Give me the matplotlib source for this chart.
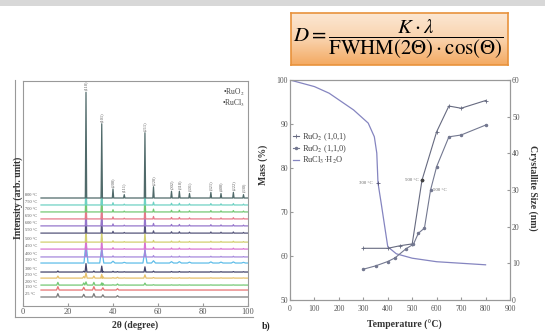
import numpy as np
import matplotlib.pyplot as plt
from matplotlib.lines import Line2D
from matplotlib.patches import Rectangle
from matplotlib.colors import LinearSegmentedColormap

plt.rcParams['font.family'] = ['Liberation Serif', 'DejaVu Serif']
plt.rcParams['mathtext.fontset'] = 'stix'

W, H = 545, 333

# --- a) XRD patterns (top trace first)
xrd_labels = ["800 °C", "750 °C", "700 °C", "650 °C", "600 °C", "550 °C", "500 °C", "450 °C",
              "400 °C", "350 °C", "300 °C", "250 °C", "200 °C", "150 °C", "25 °C"]
xrd_offsets = [48.0, 44.9, 41.8, 38.7, 35.6, 32.4, 28.4, 25.3, 21.8, 19.1, 15.1, 12.4, 9.3, 7.1, 4.0]
xrd_colors = ["#506a6a", "#6fd2c4", "#74c874", "#e67a8a", "#9676cc", "#55557a", "#d2cf70",
              "#d874d2", "#a688dc", "#5fbde8", "#44446a", "#e6c06a", "#74c874", "#e67272", "#7a7a7a"]
ruo2_scale = [1.0, 0.25, 0.25, 0.22, 0.22, 0.2, 0.15, 0.15, 0.12, 0.2, 0.08, 0.05, 0.03, 0.0, 0.0]
rucl3_scale = [0.0, 0.0, 0.0, 0.0, 0.0, 0.0, 0.0, 0.0, 0.0, 0.0, 0.3, 0.6, 0.8, 1.0, 1.0]
peak_width = [0.3, 0.3, 0.3, 0.3, 0.3, 0.3, 0.3, 0.3, 0.3, 0.9, 0.4, 0.5, 0.5, 0.6, 0.6]

ruo2_pos = [28.0, 35.0, 40.0, 45.0, 54.2, 58.0, 66.0, 69.5, 74.0, 83.5, 88.0, 93.5, 98.0]
ruo2_int = [47, 33, 4, 1.5, 29, 5, 3, 3, 2, 2.5, 2, 2.5, 1.5]
ruo2_hkl = ["(110)", "(101)", "(200)", "(111)", "(211)", "(220)", "(002)", "(310)",
            "(301)", "(321)", "(400)", "(222)", "(330)"]
rucl3_pos = [15.5, 27.0, 31.5, 35.5, 42.0]
rucl3_int = [1.5, 1.2, 1.5, 1.0, 0.6]

# --- b) TGA + crystallite size
mass_T = [0, 100, 160, 260, 320, 345, 355, 360, 373, 400, 435, 500, 600, 800]
mass = [100, 98.5, 97, 93.2, 90.2, 87.1, 83.4, 76.6, 72, 62.1, 60.5, 59.5, 58.7, 58.0]
T_101 = [300, 400, 450, 500, 540, 600, 650, 700, 800]
size_101 = [14.1, 14.1, 14.8, 15.3, 32.7, 45.9, 52.9, 52.3, 54.4]
T_110 = [300, 350, 400, 430, 475, 505, 525, 550, 575, 600, 650, 700, 800]
size_110 = [8.4, 9.3, 10.5, 11.5, 14.0, 15.2, 18.2, 19.6, 30.0, 36.4, 44.5, 45.0, 47.7]


def px(x, y):
    return x / W, 1 - y / H


fig = plt.figure(figsize=(W / 100, H / 100), dpi=100)

# grey band on top of the slide
fig.add_artist(Rectangle((0, 1 - 6 / H), 1, 6 / H, transform=fig.transFigure,
                         color="#d8d8d8", lw=0))

# formula box
axf = fig.add_axes([291 / W, 1 - 65 / H, 217 / W, 52 / H])
grad = LinearSegmentedColormap.from_list("peach", ["#fce8d4", "#f9d3ae", "#f4aa62"])
axf.imshow(np.linspace(0, 1, 64).reshape(-1, 1), cmap=grad, aspect="auto",
           extent=[0, 1, 0, 1], origin="upper")
axf.set_xlim(0, 1)
axf.set_ylim(0, 1)
axf.set_xticks([])
axf.set_yticks([])
for s in axf.spines.values():
    s.set_color("#e8923c")
    s.set_linewidth(1.2)
axf.text(0.495, 0.5, r"$D = \dfrac{K \cdot \lambda}{\mathrm{FWHM}(2\Theta) \cdot \cos(\Theta)}$",
         ha="center", va="center", fontsize=15)

# ---------------- a) XRD
ax1 = fig.add_axes([23 / W, 1 - 306 / H, 225 / W, 225 / H])
for i in range(len(xrd_offsets)):
    b = xrd_offsets[i]
    w = peak_width[i]
    peaks = []
    for p, h in zip(ruo2_pos, ruo2_int):
        if ruo2_scale[i] > 0:
            peaks.append((p, h * ruo2_scale[i]))
    for p, h in zip(rucl3_pos, rucl3_int):
        if rucl3_scale[i] > 0:
            peaks.append((p, h * rucl3_scale[i]))
    peaks.sort()
    xs, ys = [8], [b]
    for p, h in peaks:
        xs += [p - w, p, p + w]
        ys += [b, b + h, b]
    xs.append(100)
    ys.append(b)
    ax1.plot(xs, ys, color=xrd_colors[i], lw=0.9, zorder=20 - i)
    ax1.text(0.8, b + 0.4, xrd_labels[i], fontsize=3.2, color="#555555", va="bottom")

for p, h, lab in zip(ruo2_pos, ruo2_int, ruo2_hkl):
    ax1.text(p, xrd_offsets[0] + h + 1.0, lab, rotation=90, fontsize=3.2,
             color="#555555", ha="center", va="bottom")

ax1.text(0.987, 0.951, "•RuO$_2$", transform=ax1.transAxes, fontsize=5.5,
         ha="right", va="center", color="#444444")
ax1.text(0.987, 0.902, "•RuCl$_3$", transform=ax1.transAxes, fontsize=5.5,
         ha="right", va="center", color="#444444")

ax1.set_xlim(0, 100)
ax1.set_ylim(0, 100)
ax1.set_xticks([0, 20, 40, 60, 80, 100])
ax1.set_yticks([])
ax1.tick_params(axis="x", labelsize=6, colors="#999999", labelcolor="#555555",
                length=2, direction="in", pad=1.5)
for s in ax1.spines.values():
    s.set_color("#999999")
    s.set_linewidth(0.8)

# outer frame lines of panel a)
fig.add_artist(Line2D([15 / W, 15 / W], [1 - 80 / H, 1 - 317 / H],
                      transform=fig.transFigure, color="#999999", lw=0.8))
fig.add_artist(Line2D([15 / W, 253 / W], [1 - 317 / H, 1 - 317 / H],
                      transform=fig.transFigure, color="#999999", lw=0.8))

fig.text(*px(18, 198), "Intensity (arb. unit)", rotation=90, ha="center", va="center",
         fontsize=7, fontweight="bold", color="#333333")
fig.text(*px(135, 325), "2θ (degree)", ha="center", va="center",
         fontsize=7, fontweight="bold", color="#333333")

# ---------------- b) TGA + crystallite size
ax2 = fig.add_axes([290 / W, 1 - 300 / H, 220 / W, 220 / H])
ax3 = ax2.twinx()

l3, = ax2.plot(mass_T, mass, color="#8585c0", lw=0.9)
ax2.plot([362], [76.6], marker="+", color="#555577", ms=3.5, mew=0.6)
l1, = ax3.plot(T_101, size_101, color="#666a80", lw=0.8, marker="+", ms=3.5, mew=0.6)
l2, = ax3.plot(T_110, size_110, color="#737890", lw=0.8, marker="o", ms=1.5)

ax2.text(340, 76.6, "300 °C", fontsize=3.5, color="#666666", ha="right", va="center")
ax3.text(528, 32.7, "500 °C", fontsize=3.5, color="#666666", ha="right", va="center")
ax3.plot([540], [32.7], marker="s", color="#444444", ms=2)
ax3.text(585, 30.0, "500 °C", fontsize=3.5, color="#666666", ha="left", va="center")

ax2.set_xlim(0, 900)
ax2.set_ylim(50, 100)
ax3.set_ylim(0, 60)
ax2.set_xticks(range(0, 901, 100))
ax2.set_yticks(range(50, 101, 10))
ax3.set_yticks(range(0, 61, 10))
for a in (ax2, ax3):
    a.tick_params(labelsize=5.5, colors="#999999", labelcolor="#555555",
                  length=2, direction="in", pad=1.5)
    for s in a.spines.values():
        s.set_color("#999999")
        s.set_linewidth(0.8)
ax2.tick_params(axis="x", pad=3.5)

ax2.legend([l1, l2, l3], ["RuO$_2$ (1,0,1)", "RuO$_2$ (1,1,0)", "RuCl$_3$·H$_2$O"],
           loc="upper left", bbox_to_anchor=(-0.01, 0.79), frameon=False, fontsize=6,
           handlelength=0.8, handletextpad=0.3, labelspacing=0.05, borderpad=0.1,
           labelcolor="#444444")

fig.text(*px(404, 325), "Temperature (°C)", ha="center", va="center",
         fontsize=7, fontweight="bold", color="#333333")
fig.text(*px(263, 165), "Mass (%)", rotation=90, ha="center", va="center",
         fontsize=7, fontweight="bold", color="#333333")
fig.text(*px(533, 188), "Crystallite Size (nm)", rotation=270, ha="center", va="center",
         fontsize=7, fontweight="bold", color="#333333")
fig.text(*px(266, 326), "b)", ha="center", va="center",
         fontsize=7, fontweight="bold", color="#222222")

fig.savefig("out.png", dpi=100)
